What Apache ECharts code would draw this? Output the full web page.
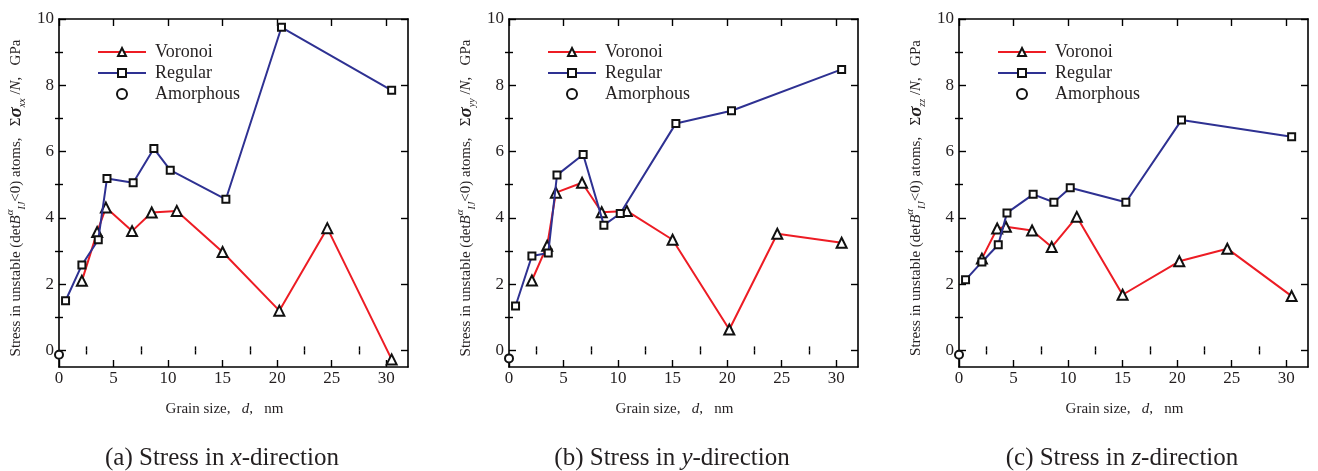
<!DOCTYPE html>
<html>
<head>
<meta charset="utf-8">
<script src="https://cdn.jsdelivr.net/npm/echarts@6/dist/echarts.min.js"></script>
<style>
html,body{margin:0;padding:0;background:#fff;}
#chart{width:1318px;height:471px;}
</style>
</head>
<body>
<div id="chart"></div>
<script>
// ---- data ----
const xTicksMajor = [0, 5, 10, 15, 20, 25, 30];
const xTicksMinor = [2.5, 7.5, 12.5, 17.5, 22.5, 27.5];
const yTicksMajor = [0, 2, 4, 6, 8, 10];
const yTicksMinor = [1, 3, 5, 7, 9];

const voronoiX   = [2.1, 3.5, 4.3, 6.7, 8.5, 10.8, 15.0, 20.2, 24.6, 30.5];
const regularX   = [0.6, 2.1, 3.6, 4.4, 6.8, 8.7, 10.2, 15.3, 20.4, 30.5];
const amorphousX = [0];

const voronoiA   = [2.10, 3.57, 4.31, 3.60, 4.16, 4.21, 2.97, 1.20, 3.69, -0.27];
const regularA   = [1.50, 2.58, 3.34, 5.19, 5.06, 6.09, 5.44, 4.56, 9.75, 7.85];
const amorphousA = [-0.13];

const voronoiB   = [2.11, 3.16, 4.76, 5.06, 4.17, 4.21, 3.34, 0.63, 3.52, 3.25];
const regularB   = [1.34, 2.85, 2.94, 5.29, 5.91, 3.78, 4.13, 6.85, 7.23, 8.48];
const amorphousB = [-0.24];

const voronoiC   = [2.77, 3.68, 3.73, 3.62, 3.12, 4.03, 1.68, 2.69, 3.07, 1.64];
const regularC   = [2.13, 2.67, 3.19, 4.15, 4.71, 4.47, 4.91, 4.47, 6.95, 6.45];
const amorphousC = [-0.13];

const seriesNames = ['Voronoi', 'Regular', 'Amorphous'];
const components  = ['xx', 'yy', 'zz'];
const captions    = [['(a) Stress in ', 'x', '-direction'], ['(b) Stress in ', 'y', '-direction'], ['(c) Stress in ', 'z', '-direction']];

const panels = [
  {v: voronoiA, r: regularA, a: amorphousA},
  {v: voronoiB, r: regularB, a: amorphousB},
  {v: voronoiC, r: regularC, a: amorphousC}
];

// ---- layout / style ----
const FONT = 'Liberation Serif';
const TXT = '#231f20';
const RED = '#ed1c24';
const BLUE = '#2e3192';
const gridLefts = [59, 509, 959];
const gridCenters = [222, 672, 1122];
const GW = 349, GT = 19, GH = 348;

function zip(xs, ys) { return xs.map((x, i) => [x, ys[i]]); }

const grid = [], xAxis = [], yAxis = [], series = [], legend = [], graphic = [];

panels.forEach((p, i) => {
  grid.push({left: gridLefts[i], top: GT, width: GW, height: GH});
  const axLine = {show: true, onZero: false, lineStyle: {color: '#000', width: 1.6}};
  const baseX = {type: 'value', gridIndex: i, min: 0, max: 32, splitLine: {show: false}};
  const baseY = {type: 'value', gridIndex: i, min: -0.5, max: 10, splitLine: {show: false}};
  // x axes: bottom major(labels), bottom minor, top major, top minor
  xAxis.push(Object.assign({}, baseX, {
    position: 'bottom', axisLine: axLine,
    axisTick: {inside: true, length: 7, customValues: xTicksMajor, lineStyle: {color: '#000', width: 1.4}},
    axisLabel: {customValues: xTicksMajor, color: TXT, fontFamily: FONT, fontSize: 17, margin: 3},
    name: '{n|Grain size,   }{i|d}{n|,   nm}', nameLocation: 'middle', nameGap: 35,
    nameTextStyle: {padding: [0, 18, 0, 0], rich: {
      n: {fontFamily: FONT, fontSize: 15, color: TXT},
      i: {fontFamily: FONT, fontSize: 15, fontStyle: 'italic', color: TXT}}}
  }));
  xAxis.push(Object.assign({}, baseX, {
    position: 'bottom', axisLine: {show: false},
    axisTick: {inside: true, length: 4, customValues: xTicksMinor, lineStyle: {color: '#000', width: 1.4}},
    axisLabel: {show: false}
  }));
  xAxis.push(Object.assign({}, baseX, {
    position: 'top', axisLine: axLine,
    axisTick: {inside: true, length: 7, customValues: xTicksMajor, lineStyle: {color: '#000', width: 1.4}},
    axisLabel: {show: false}
  }));
  xAxis.push(Object.assign({}, baseX, {
    position: 'top', axisLine: {show: false},
    axisTick: {inside: true, length: 4, customValues: xTicksMinor, lineStyle: {color: '#000', width: 1.4}},
    axisLabel: {show: false}
  }));
  // y axes
  yAxis.push(Object.assign({}, baseY, {
    position: 'left', axisLine: axLine,
    axisTick: {inside: true, length: 7, customValues: yTicksMajor, lineStyle: {color: '#000', width: 1.4}},
    axisLabel: {customValues: yTicksMajor, color: TXT, fontFamily: FONT, fontSize: 17, margin: 5},
    name: '{n|Stress in unstable (det}{i|B}{sup|α}{sub|IJ}{n|<0) atoms,   Σ}{sig|σ}{sub|' + components[i] + '}{n| /}{i|N}{n|,   GPa}',
    nameLocation: 'middle', nameGap: 32, nameRotate: 90,
    nameTextStyle: {padding: [0, 10, 0, 0], rich: {
      n: {fontFamily: FONT, fontSize: 15, color: TXT, lineHeight: 22},
      i: {fontFamily: FONT, fontSize: 15, fontStyle: 'italic', color: TXT, lineHeight: 22},
      sup: {fontFamily: FONT, fontSize: 11, fontStyle: 'italic', color: TXT, verticalAlign: 'top', lineHeight: 22},
      sub: {fontFamily: FONT, fontSize: 10, fontStyle: 'italic', color: TXT, verticalAlign: 'bottom', lineHeight: 22},
      sig: {fontFamily: FONT, fontSize: 19, fontStyle: 'italic', fontWeight: 'bold', color: TXT, lineHeight: 22}}}
  }));
  yAxis.push(Object.assign({}, baseY, {
    position: 'left', axisLine: {show: false},
    axisTick: {inside: true, length: 4, customValues: yTicksMinor, lineStyle: {color: '#000', width: 1.4}},
    axisLabel: {show: false}
  }));
  yAxis.push(Object.assign({}, baseY, {
    position: 'right', axisLine: axLine,
    axisTick: {inside: true, length: 7, customValues: yTicksMajor, lineStyle: {color: '#000', width: 1.4}},
    axisLabel: {show: false}
  }));
  yAxis.push(Object.assign({}, baseY, {
    position: 'right', axisLine: {show: false},
    axisTick: {inside: true, length: 4, customValues: yTicksMinor, lineStyle: {color: '#000', width: 1.4}},
    axisLabel: {show: false}
  }));

  series.push({
    name: seriesNames[0], type: 'line', xAxisIndex: i * 4, yAxisIndex: i * 4,
    data: zip(voronoiX, p.v), symbol: 'emptyTriangle', symbolSize: 10,
    lineStyle: {color: RED, width: 2}, itemStyle: {color: '#111', borderWidth: 1.7}, z: 3
  });
  series.push({
    name: seriesNames[1], type: 'line', xAxisIndex: i * 4, yAxisIndex: i * 4,
    data: zip(regularX, p.r), symbol: 'emptyRect', symbolSize: 7,
    lineStyle: {color: BLUE, width: 2}, itemStyle: {color: '#111', borderWidth: 1.7}, z: 4
  });
  series.push({
    name: seriesNames[2], type: 'scatter', xAxisIndex: i * 4, yAxisIndex: i * 4,
    data: zip(amorphousX, p.a), symbol: 'emptyCircle', symbolSize: 8,
    itemStyle: {color: '#111', borderWidth: 2, opacity: 1}, z: 5
  });

  legend.push({
    orient: 'vertical', left: gridLefts[i] + 33, top: 38,
    itemWidth: 48, itemHeight: 10, itemGap: 3,
    data: seriesNames, selectedMode: false,
    itemStyle: {opacity: 1},
    textStyle: {fontFamily: FONT, fontSize: 18, color: TXT, lineHeight: 18, padding: [0, 0, 0, 4]}
  });

  graphic.push({
    type: 'text', x: gridCenters[i], y: 458,
    style: {
      text: '{n|' + captions[i][0] + '}{i|' + captions[i][1] + '}{n|' + captions[i][2] + '}',
      align: 'center', verticalAlign: 'middle',
      rich: {
        n: {fontFamily: FONT, fontSize: 25, fill: TXT, color: TXT},
        i: {fontFamily: FONT, fontSize: 25, fontStyle: 'italic', fill: TXT, color: TXT}
      }
    }
  });
});

const chart = echarts.init(document.getElementById('chart'), null, {renderer: 'canvas'});
chart.setOption({
  animation: false,
  backgroundColor: '#fff',
  grid, xAxis, yAxis, series, legend, graphic
});
</script>
</body>
</html>
